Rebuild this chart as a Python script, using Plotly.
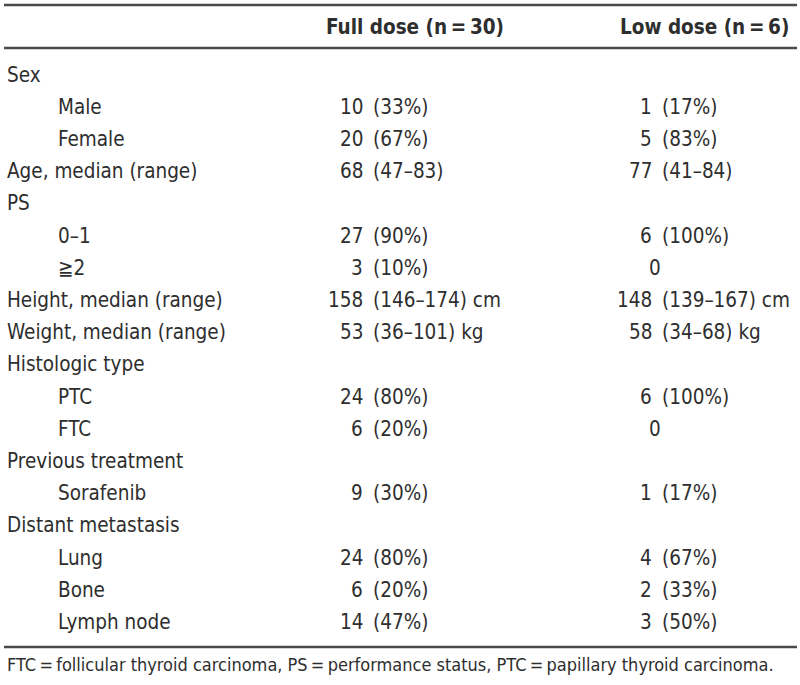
import plotly.graph_objects as go

# ---- data ----
row_labels = ["Sex", "Male", "Female", "Age, median (range)", "PS", "0–1", "≧2",
              "Height, median (range)", "Weight, median (range)", "Histologic type",
              "PTC", "FTC", "Previous treatment", "Sorafenib", "Distant metastasis",
              "Lung", "Bone", "Lymph node"]
row_indent = [0, 1, 1, 0, 0, 1, 1, 0, 0, 0, 1, 1, 0, 1, 0, 1, 1, 1]
full_num = ["", "10", "20", "68", "", "27", "3", "158", "53", "", "24", "6", "", "9", "", "24", "6", "14"]
full_paren = ["", "(33%)", "(67%)", "(47–83)", "", "(90%)", "(10%)", "(146–174) cm", "(36–101) kg",
              "", "(80%)", "(20%)", "", "(30%)", "", "(80%)", "(20%)", "(47%)"]
low_num = ["", "1", "5", "77", "", "6", "0", "148", "58", "", "6", "0", "", "1", "", "4", "2", "3"]
low_paren = ["", "(17%)", "(83%)", "(41–84)", "", "(100%)", "", "(139–167) cm", "(34–68) kg",
             "", "(100%)", "", "", "(17%)", "", "(67%)", "(33%)", "(50%)"]
headers = ["Full dose (n\u2009=\u200930)", "Low dose (n\u2009=\u20096)"]
footnote = ("FTC\u2009=\u2009follicular thyroid carcinoma, PS\u2009=\u2009performance status, "
            "PTC\u2009=\u2009papillary thyroid carcinoma.")

# ---- layout constants ----
W, H = 800, 685
FONT = "Liberation Sans Narrow, Arial Narrow, DejaVu Sans Condensed, Liberation Sans, sans-serif"
TXT = "#2e2e2e"
FS = 20.5
y0, dy = 74.5, 32.2
x_lab, x_ind = 5, 56
full_numR, full_parL = 365, 371
low_numR, low_parL = 654, 660

fig = go.Figure()
fig.add_trace(go.Scatter(x=[0, W], y=[0, H], mode="markers", marker=dict(opacity=0),
                         hoverinfo="skip", showlegend=False))

ann = []
def A(x, y, t, anchor="left", size=FS, bold=False):
    ann.append(dict(x=x, y=y, xref="x", yref="y", text=("<b>%s</b>" % t) if bold else t,
                    showarrow=False, xanchor=anchor, yanchor="middle",
                    font=dict(family=FONT, size=size, color=TXT)))

A(506, 27, headers[0], "right", bold=True)
A(791, 27, headers[1], "right", bold=True)

for i, lab in enumerate(row_labels):
    y = y0 + i * dy
    A(x_ind if row_indent[i] else x_lab, y, lab)
    if full_num[i]:
        A(full_numR, y, full_num[i], "right")
    if full_paren[i]:
        A(full_parL, y, full_paren[i], "left")
    if low_num[i]:
        if low_paren[i]:
            A(low_numR, y, low_num[i], "right")
        else:
            A(low_parL + 3, y, low_num[i], "right")
    if low_paren[i]:
        A(low_parL, y, low_paren[i], "left")

A(x_lab, 664, footnote, "left", size=18)

shapes = []
for yl in (5, 48, 647):
    shapes.append(dict(type="line", xref="x", yref="y", x0=4, x1=797, y0=yl, y1=yl,
                       line=dict(color="#4a4a4a", width=2.5)))

fig.update_layout(
    width=W, height=H, margin=dict(l=0, r=0, t=0, b=0),
    paper_bgcolor="white", plot_bgcolor="white",
    xaxis=dict(range=[0, W], visible=False, fixedrange=True),
    yaxis=dict(range=[H, 0], visible=False, fixedrange=True),
    annotations=ann, shapes=shapes, showlegend=False,
)
fig.write_html("out.html", config={"displayModeBar": False},
               post_script="document.body.style.margin='0';document.body.style.overflow='hidden';")
